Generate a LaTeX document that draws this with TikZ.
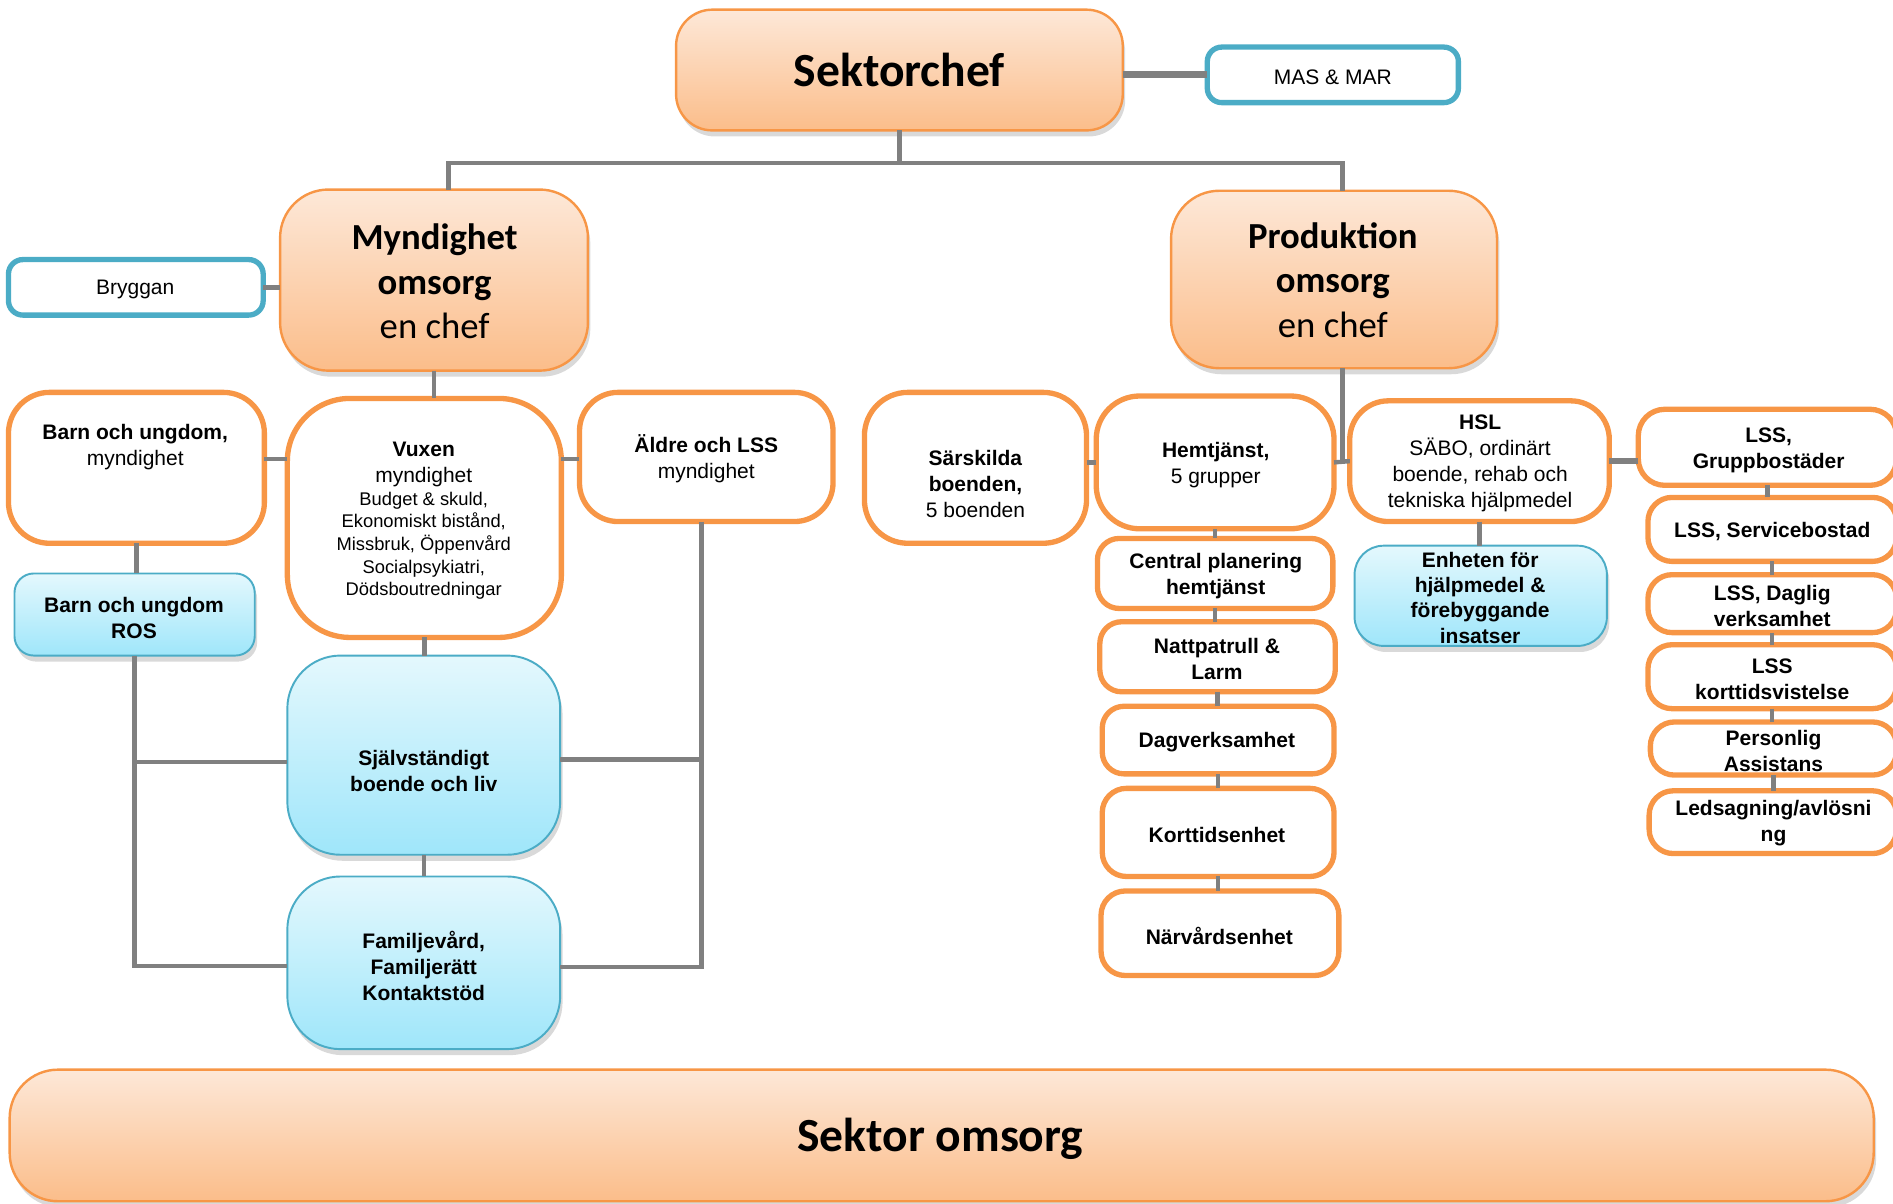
\documentclass[tikz,border=0pt]{standalone}
\usepackage{fontspec}
\setmainfont{Liberation Sans}
\newfontfamily\calib{Carlito}
\usetikzlibrary{fit,shadows}
\definecolor{org}{HTML}{F79646}
\definecolor{orgtop}{HTML}{FDE8D8}
\definecolor{orgbot}{HTML}{FBBD8A}
\definecolor{blu}{HTML}{4BACC6}
\definecolor{blutop}{HTML}{E4F8FD}
\definecolor{blubot}{HTML}{9FE6FA}
\definecolor{lin}{HTML}{808080}
\newcommand\mkbox[6]{\node[#6, fit={(#2,#3) (#4,#5)}] (#1) {};}
\tikzset{
  base/.style={rectangle, rounded corners=#1, inner sep=0pt, outer sep=0pt},
  headbox/.style={base=#1, draw=org, line width=1pt, top color=orgtop, bottom color=orgbot,
     drop shadow={opacity=0.3, shadow xshift=1pt, shadow yshift=-2.5pt}},
  whitebox/.style={base=#1, draw=org, line width=2.2pt, fill=white},
  bluebox/.style={base=#1, draw=blu, line width=0.8pt, top color=blutop, bottom color=blubot,
     drop shadow={opacity=0.3, shadow xshift=1pt, shadow yshift=-2.5pt}},
  sidebox/.style={base=6pt, draw=blu, line width=2.2pt, fill=white},
  txt/.style={align=center, inner sep=0pt, yshift=-1pt, font=\fontsize{8.7}{10.75}\selectfont},
  btxt/.style={txt, font=\bfseries\fontsize{8.7}{10.75}\selectfont},
  smalltxt/.style={align=center, inner sep=0pt, yshift=-1pt, font=\fontsize{7.6}{9.4}\selectfont},
  bigtxt/.style={align=center, inner sep=0pt, font=\calib\fontsize{15.2}{18.5}\selectfont},
  hugetxt/.style={align=center, inner sep=0pt, font=\calib\bfseries\fontsize{19.7}{23}\selectfont},
  conn/.style={draw=lin, line width=1.8pt},
}
\begin{document}
\begin{tikzpicture}[x=0.5pt, y=-0.5pt]
\useasboundingbox (0,0) rectangle (1568,997);
% --- boxes ---
\mkbox{sek}{560}{8}{930}{108}{headbox=15pt}
\mkbox{mas}{1000}{39}{1208}{85}{sidebox}
\mkbox{myn}{232}{157}{487}{307}{headbox=20pt}
\mkbox{bry}{7}{215}{218}{261}{sidebox}
\mkbox{prod}{970}{158}{1240}{305}{headbox=20pt}
\mkbox{barn}{7}{325}{219}{450}{whitebox=17pt}
\mkbox{vux}{238}{330}{465}{528}{whitebox=26pt}
\mkbox{ald}{480}{325}{690}{432}{whitebox=16pt}
\mkbox{sar}{716}{325}{900}{450}{whitebox=18pt}
\mkbox{hem}{908}{328}{1105}{438}{whitebox=18pt}
\mkbox{hsl}{1118}{332}{1333}{432}{whitebox=16pt}
\mkbox{lssg}{1357}{339}{1571}{402}{whitebox=11pt}
\mkbox{lsss}{1365}{412}{1571}{465}{whitebox=10pt}
\mkbox{lssd}{1365}{476}{1571}{524}{whitebox=10pt}
\mkbox{lssk}{1365}{534}{1571}{587}{whitebox=10pt}
\mkbox{pers}{1367}{598}{1571}{642}{whitebox=10pt}
\mkbox{leds}{1366}{655}{1571}{707}{whitebox=10pt}
\mkbox{cp}{909}{446}{1104}{504}{whitebox=9pt}
\mkbox{natt}{911}{515}{1106}{573}{whitebox=9pt}
\mkbox{dag}{913}{585}{1105}{641}{whitebox=9pt}
\mkbox{kort}{913}{653}{1105}{726}{whitebox=10pt}
\mkbox{narv}{912}{738}{1109}{808}{whitebox=10pt}
\mkbox{enh}{1122}{452}{1331}{535}{bluebox=12pt}
\mkbox{ros}{12}{475}{211}{543}{bluebox=8pt}
\mkbox{sja}{238}{543}{464}{708}{bluebox=22pt}
\mkbox{fam}{238}{726}{464}{869}{bluebox=22pt}
\mkbox{omb}{8}{886}{1552}{995}{headbox=20pt}
% --- connectors ---
\coordinate (bus) at (745,135);
\draw[conn] (sek.south) -- (bus);
\draw[conn] (bus) -| ([xshift=6pt]myn.north);
\draw[conn] (bus) -| ([xshift=3.5pt]prod.north);
\draw[conn, line width=3pt] (sek.east |- mas.west) -- (mas.west);
\draw[conn] (bry.east) -- (myn.west |- bry.east);
\draw[conn] (myn.south) -- (myn.south |- vux.north);
\draw[conn] (barn.east |- 0,380) -- (vux.west |- 0,380);
\draw[conn] (vux.east |- 0,380) -- (ald.west |- 0,380);
\draw[conn] (barn.south) -- (barn.south |- ros.north);
\draw[conn] (ros.south) |- (fam.west |- 0,800);
\draw[conn] (ros.south |- 0,631) -- (sja.west |- 0,631);
\draw[conn] (vux.south) -- (vux.south |- sja.north);
\draw[conn] (sja.south) -- (sja.south |- fam.north);
\coordinate (ax) at ([xshift=-2pt]ald.south);
\draw[conn] (ax) |- (fam.east |- 0,801);
\draw[conn] (sja.east |- 0,629) -- (ax |- 0,629);
\draw[conn] (sar.east |- hem.west) -- (hem.west);
\draw[conn] ([xshift=3.5pt]prod.south) |- (hsl.west);
\draw[conn] (hem.east) -- (hsl.west);
\draw[conn] (hsl.south) -- (hsl.south |- enh.north);
\draw[conn, line width=2.6pt] (hsl.east) -- (lssg.west |- hsl.east);
\draw[conn] (hem.south) -- (hem.south |- cp.north);
\draw[conn] (cp.south) -- (cp.south |- natt.north);
\draw[conn] (natt.south) -- (natt.south |- dag.north);
\draw[conn] (dag.south) -- (dag.south |- kort.north);
\draw[conn] (kort.south) -- (kort.south |- narv.north);
\draw[conn] (lssg.south) -- (lssg.south |- lsss.north);
\draw[conn] (lsss.south) -- (lsss.south |- lssd.north);
\draw[conn] (lssd.south) -- (lssd.south |- lssk.north);
\draw[conn] (lssk.south) -- (lssk.south |- pers.north);
\draw[conn] (pers.south) -- (pers.south |- leds.north);
% --- texts ---
\node[hugetxt] (sekt) at (745,58) {Sektorchef};
\node[txt] (mast) at (1104,62) {MAS \& MAR};
\node[txt] (bryt) at (112,238) {Bryggan};
\node[bigtxt] (mynt) at (360,233) {\textbf{Myndighet}\\\textbf{omsorg}\\en chef};
\node[bigtxt] (prodt) at (1104,232) {\textbf{Produktion}\\\textbf{omsorg}\\en chef};
\node[txt] (barnt) at (112,368) {\textbf{Barn och ungdom,}\\myndighet};
\node[txt] (vuxt) at (351,383) {\textbf{Vuxen}\\myndighet};
\node[smalltxt] (vuxs) at (351,450) {Budget \& skuld,\\Ekonomiskt bistånd,\\Missbruk, Öppenvård\\Socialpsykiatri,\\Dödsboutredningar};
\node[txt] (aldt) at (585,378) {\textbf{Äldre och LSS}\\myndighet};
\node[txt] (sart) at (808,399) {\textbf{Särskilda}\\\textbf{boenden,}\\5 boenden};
\node[txt] (hemt) at (1007,383) {\textbf{Hemtjänst,}\\5 grupper};
\node[txt] (hslt) at (1226,382) {\textbf{HSL}\\SÄBO, ordinärt\\boende, rehab och\\tekniska hjälpmedel};
\node[btxt] (lssgt) at (1465,371) {LSS,\\Gruppbostäder};
\node[btxt] (lssst) at (1468,438) {LSS, Servicebostad};
\node[btxt] (lssdt) at (1468,500) {LSS, Daglig\\verksamhet};
\node[btxt] (lsskt) at (1468,561) {LSS\\korttidsvistelse};
\node[btxt] (perst) at (1469,620) {Personlig\\Assistans};
\node[btxt] (ledst) at (1469,680) {Ledsagning/avlösni\\ng};
\node[btxt] (cpt) at (1007,475) {Central planering\\hemtjänst};
\node[btxt] (nattt) at (1008,544) {Nattpatrull \&\\Larm};
\node[btxt] (dagt) at (1008,613) {Dagverksamhet};
\node[btxt] (kortt) at (1008,690) {Korttidsenhet};
\node[btxt] (narvt) at (1010,773) {Närvårdsenhet};
\node[btxt, font=\bfseries\fontsize{8.7}{10.5}\selectfont] (enht) at (1226,493) {Enheten för\\hjälpmedel \&\\förebyggande\\insatser};
\node[btxt] (rost) at (111,510) {Barn och ungdom\\ROS};
\node[btxt] (sjat) at (351,637) {Självständigt\\boende och liv};
\node[btxt] (famt) at (351,798) {Familjevård,\\Familjerätt\\Kontaktstöd};
\node[hugetxt] (ombt) at (779,943) {Sektor omsorg};
\end{tikzpicture}
\end{document}
